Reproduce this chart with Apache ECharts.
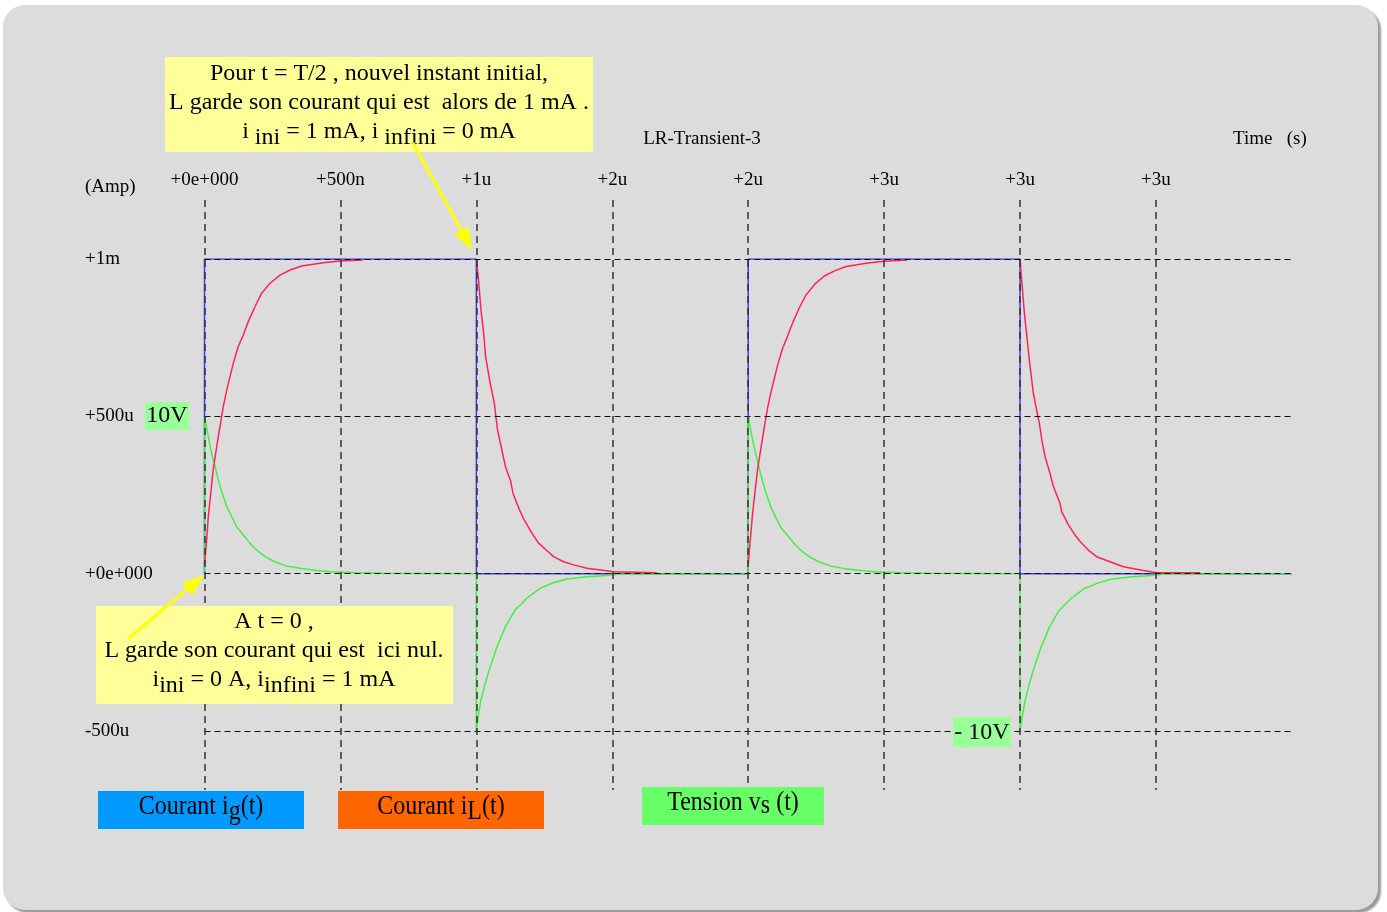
<!DOCTYPE html>
<html>
<head>
<meta charset="utf-8">
<script src="https://cdn.jsdelivr.net/npm/echarts/dist/echarts.min.js"></script>
<style>
html,body{margin:0;padding:0;background:#fff;overflow:hidden;}
#panel{position:absolute;left:3px;top:5px;width:1375px;height:905px;border-radius:22px;background:#dcdcdc;box-shadow:3px 3px 2px #9a9a9a;}
#c{position:absolute;left:0;top:0;width:1387px;height:912px;}
</style>
</head>
<body>
<div id="panel"></div>
<div id="c"></div>
<script>
// ---- axis tick labels ----
const timeTickLabels = ['+0e+000', '+500n', '+1u', '+2u', '+2u', '+3u', '+3u', '+3u'];
const ampTickLabels = ['-500u', '+0e+000', '+500u', '+1m'];

// ---- ig(t): generator current, square wave [time µs, current mA] ----
const igWave = [[0,0],[0,1],[1,1],[1,0],[2,0],[2,1],[3,1],[3,0],[4,0]];

// ---- iL(t): inductor current segments [time µs, current mA] ----
const iLRise1 = [[0,0.03],[0.008,0.107],[0.014,0.181],[0.023,0.255],[0.032,0.330],[0.045,0.404],[0.057,0.467],[0.069,0.531],[0.082,0.584],[0.094,0.626],[0.106,0.669],[0.124,0.721],[0.143,0.759],[0.161,0.801],[0.186,0.849],[0.210,0.891],[0.241,0.923],[0.278,0.949],[0.315,0.965],[0.357,0.978],[0.437,0.988],[0.498,0.994],[0.584,0.997]];
const iLFall1 = [[1,1],[1.008,0.933],[1.017,0.838],[1.027,0.764],[1.034,0.690],[1.051,0.605],[1.066,0.542],[1.072,0.499],[1.078,0.457],[1.094,0.393],[1.107,0.340],[1.125,0.298],[1.135,0.255],[1.159,0.202],[1.176,0.171],[1.205,0.128],[1.229,0.097],[1.257,0.075],[1.284,0.054],[1.321,0.038],[1.358,0.028],[1.407,0.017],[1.456,0.012],[1.505,0.006],[1.664,0.003]];
const iLRise2 = [[2,0.03],[2.009,0.12],[2.016,0.19],[2.025,0.26],[2.035,0.335],[2.047,0.40],[2.059,0.465],[2.071,0.525],[2.084,0.578],[2.096,0.62],[2.108,0.662],[2.126,0.715],[2.145,0.755],[2.164,0.798],[2.188,0.845],[2.213,0.886],[2.245,0.92],[2.28,0.946],[2.32,0.963],[2.36,0.976],[2.44,0.987],[2.5,0.993],[2.585,0.997]];
const iLFall2 = [[3,1],[3.006,0.933],[3.015,0.838],[3.025,0.753],[3.037,0.658],[3.049,0.573],[3.061,0.520],[3.071,0.478],[3.080,0.425],[3.092,0.372],[3.110,0.319],[3.123,0.276],[3.147,0.224],[3.153,0.197],[3.178,0.155],[3.202,0.123],[3.221,0.102],[3.251,0.075],[3.282,0.054],[3.331,0.038],[3.380,0.022],[3.454,0.010],[3.503,0.003],[3.662,0.003]];

// ---- vs(t): voltage, drawn on the Amp scale (10 V <-> 500u) ----
const vsDecay1 = [[0,0],[0,0.5],[0.014,0.435],[0.026,0.383],[0.039,0.340],[0.051,0.298],[0.063,0.261],[0.082,0.213],[0.100,0.181],[0.118,0.149],[0.143,0.123],[0.167,0.097],[0.192,0.075],[0.223,0.054],[0.259,0.038],[0.302,0.024],[0.351,0.017],[0.413,0.010],[0.462,0.006],[0.560,0.003],[0.658,0.001],[1,0]];
const vsRecover1 = [[1,-0.5],[1.0085,-0.444],[1.017,-0.401],[1.033,-0.348],[1.051,-0.296],[1.076,-0.232],[1.107,-0.168],[1.143,-0.115],[1.186,-0.078],[1.235,-0.046],[1.284,-0.029],[1.333,-0.017],[1.407,-0.010],[1.480,-0.006],[1.52,-0.002],[2,0]];
const vsDecay2 = [[2,0.5],[2.015,0.43],[2.028,0.38],[2.04,0.337],[2.052,0.296],[2.065,0.258],[2.084,0.21],[2.102,0.178],[2.12,0.147],[2.145,0.121],[2.17,0.095],[2.195,0.073],[2.226,0.053],[2.262,0.037],[2.305,0.024],[2.355,0.016],[2.415,0.010],[2.465,0.006],[2.56,0.003],[2.66,0.001],[3,0]];
const vsRecover2 = [[3,-0.5],[3.009,-0.45],[3.018,-0.405],[3.034,-0.35],[3.052,-0.298],[3.077,-0.235],[3.108,-0.17],[3.144,-0.117],[3.188,-0.079],[3.237,-0.047],[3.286,-0.03],[3.335,-0.018],[3.41,-0.010],[3.482,-0.006],[3.525,-0.002],[4,0]];

const FONT = 'Liberation Serif';
const chart = echarts.init(document.getElementById('c'), null, {renderer: 'canvas'});

function arrow(x1, y1, x2, y2, len, half) {
  const dx = x2 - x1, dy = y2 - y1, L = Math.hypot(dx, dy);
  const ux = dx / L, uy = dy / L;
  const bx = x2 - ux * len, by = y2 - uy * len;
  return [
    {type: 'line', z: 20, shape: {x1: x1, y1: y1, x2: bx, y2: by}, style: {stroke: '#ffff00', lineWidth: 3}},
    {type: 'polygon', z: 20, shape: {points: [[x2, y2], [bx - uy * half, by + ux * half], [bx + uy * half, by - ux * half]]}, style: {fill: '#ffff00'}}
  ];
}

function box(x, y, w, h, fill) {
  return {type: 'rect', z: 15, shape: {x: x, y: y, width: w, height: h}, style: {fill: fill}};
}
function txt(x, y, text, opts) {
  opts = opts || {};
  return {
    type: 'text', z: 16, x: x, y: y,
    scaleY: opts.scaleY || 1, originX: 0, originY: opts.originY || 0,
    style: {
      text: text, fill: '#000', align: opts.align || 'center', verticalAlign: 'top',
      font: (opts.size || 24) + 'px "' + FONT + '"', lineHeight: opts.lh || 29,
      rich: {
        n: {fontFamily: FONT, fontSize: opts.size || 24, lineHeight: opts.lh || 29, verticalAlign: 'top'},
        s: {fontFamily: FONT, fontSize: opts.size || 24, lineHeight: opts.lh || 29, verticalAlign: 'top', padding: [opts.sub || 6, 0, 0, 0]}
      }
    }
  };
}

const redStyle = {color: '#ff2255', width: 1.5};
const iLSegments = [iLRise1, iLFall1, iLRise2, iLFall2];
const vsData = [].concat(vsDecay1, vsRecover1, vsDecay2, vsRecover2);

const series = [
  {name: 'ig', type: 'line', data: igWave, showSymbol: false, z: 2, lineStyle: {color: '#3c3cff', width: 1.5}, itemStyle: {color: '#3c3cff'}, xAxisIndex: 0, yAxisIndex: 0},
  {name: 'vs', type: 'line', data: vsData, showSymbol: false, z: 3, lineStyle: {color: '#44ee44', width: 1.5}, itemStyle: {color: '#44ee44'}, xAxisIndex: 0, yAxisIndex: 0}
];
iLSegments.forEach(function (seg) {
  series.push({name: 'iL', type: 'line', data: seg, showSymbol: false, z: 4, lineStyle: redStyle, itemStyle: {color: '#ff2255'}, xAxisIndex: 0, yAxisIndex: 0});
});

const graphics = [].concat(
  // top annotation
  [box(165, 57, 428, 95, '#ffff99'),
   txt(379, 62, '{n|Pour t = T/2 , nouvel instant initial,}\n{n|L garde son courant qui est  alors de 1 mA .}\n{n|i }{s|ini}{n| = 1 mA, i }{s|infini}{n| = 0 mA}')],
  arrow(413, 143, 472, 250, 22, 8),
  // bottom annotation
  [box(96, 606, 357, 98, '#ffff99'),
   txt(274, 610, '{n|A t = 0 ,}\n{n|L garde son courant qui est  ici nul.}\n{n|i}{s|ini}{n| = 0 A, i}{s|infini}{n| = 1 mA}')],
  arrow(128, 639, 204, 575, 22, 8),
  // voltage labels
  [box(145, 402, 44, 28, '#99ff99'), txt(167, 401, '10V'),
   box(953, 717, 58, 30, '#99ff99'), txt(982, 718, '- 10V')],
  // legend boxes
  [box(98, 791, 206, 38, '#0099ff'), txt(201, 795, '{n|Courant i}{s|g}{n|(t)}', {scaleY: 1.12, originY: 14, sub: 5}),
   box(338, 791, 206, 38, '#ff6600'), txt(441, 795, '{n|Courant i}{s|L}{n|(t)}', {scaleY: 1.12, originY: 14, sub: 5}),
   box(642, 787, 182, 38, '#66ff66'), txt(733, 791, '{n|Tension v}{s|s}{n| (t)}', {scaleY: 1.12, originY: 14, sub: 3})],
  // titles
  [txt(702, 128, 'LR-Transient-3', {size: 19, lh: 22}),
   txt(1233, 128, 'Time   (s)', {size: 19, lh: 22, align: 'left'}),
   txt(85, 176, '(Amp)', {size: 19, lh: 22, align: 'left'})]
);

const option = {
  animation: false,
  backgroundColor: 'transparent',
  grid: [
    {left: 204.5, right: 95.1, top: 259, bottom: 181},
    {left: 204.5, right: 95.1, top: 200, bottom: 122}
  ],
  xAxis: [
    {gridIndex: 0, type: 'value', min: 0, max: 4, interval: 0.5, show: false},
    {gridIndex: 1, type: 'value', min: 0, max: 4, interval: 0.5, position: 'top', z: 5,
     axisLine: {show: false}, axisTick: {show: false},
     axisLabel: {margin: 10, fontFamily: FONT, fontSize: 19, color: '#000',
       formatter: function (v) { const i = Math.round(v / 0.5); return timeTickLabels[i] || ''; }},
     splitLine: {show: true, showMinLine: true, showMaxLine: false, lineStyle: {color: '#333', width: 1.5, type: [7, 5]}}}
  ],
  yAxis: [
    {gridIndex: 0, type: 'value', min: -0.5, max: 1, interval: 0.5, z: 5,
     axisLine: {show: false}, axisTick: {show: false},
     axisLabel: {align: 'left', margin: 119.5, fontFamily: FONT, fontSize: 19, color: '#000',
       formatter: function (v) { const i = Math.round((v + 0.5) / 0.5); return ampTickLabels[i] || ''; }},
     splitLine: {show: true, lineStyle: {color: '#111', width: 1.2, type: [6, 4]}}},
    {gridIndex: 1, type: 'value', min: 0, max: 1, show: false}
  ],
  series: series,
  graphic: {elements: graphics}
};
chart.setOption(option);
</script>
</body>
</html>
